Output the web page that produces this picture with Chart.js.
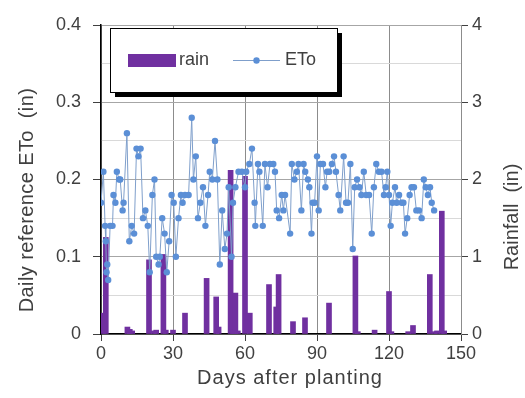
<!DOCTYPE html>
<html>
<head>
<meta charset="utf-8">
<script src="https://cdn.jsdelivr.net/npm/chart.js@4/dist/chart.umd.min.js"></script>
<style>
html,body{margin:0;padding:0;background:#fff;}
#wrap{width:525px;height:398px;position:relative;}
</style>
</head>
<body>
<div id="wrap"><canvas id="c" width="525" height="398"></canvas></div>
<script>
// ---- data ----
const etoDays = [0,1,1.7,2,2.3,2.6,3,3.8,4.8,5.2,6,6.6,7.6,8,9,9.4,10.8,11.8,12.8,13.8,14.8,15.6,16.5,17.5,18.5,19.5,20.3,21.4,22.3,23,24,24.5,25.5,26.5,27.4,28.4,29.4,30.3,31.2,32.3,33.3,34,35,36.5,37.8,38.5,39.5,40.4,41.4,42.5,43.5,44.6,45.3,46.4,47.5,48.5,49.5,50.5,51.6,52.5,53.2,54.4,55,56,57.3,58.7,60,60.5,61.8,62.9,64,64.3,65.4,66,67.4,68.3,69.4,70.4,71.8,72.5,73.2,74.2,75.3,76,76.7,78.8,79.5,80.6,81.6,82.3,83.5,84.4,85.1,86.2,86.8,87.7,88.2,89,90,90.7,91.4,92.5,93.5,94.2,95.1,96.2,97.1,97.9,99,99.7,101.1,102.1,102.9,103.9,104.9,105.7,106.7,107.7,108.5,109.5,110.5,111.7,112.8,113.7,114.7,115.8,116.9,117.9,118.6,119.3,120,120.7,121.4,122.5,123.2,124.2,125.3,126,126.7,127.6,128.6,129.4,130.4,131.4,132.5,133.6,134.5,135.3,136.2,137.1,137.8,138.8];
const eto = [0.17,0.21,0.14,0.12,0.08,0.09,0.07,0.14,0.14,0.18,0.17,0.21,0.20,0.20,0.16,0.17,0.26,0.12,0.14,0.13,0.24,0.23,0.24,0.15,0.16,0.14,0.08,0.18,0.20,0.10,0.09,0.10,0.15,0.13,0.08,0.12,0.18,0.17,0.10,0.15,0.18,0.17,0.18,0.18,0.28,0.20,0.23,0.15,0.17,0.19,0.14,0.18,0.21,0.20,0.25,0.20,0.09,0.16,0.11,0.13,0.19,0.10,0.17,0.19,0.21,0.21,0.19,0.21,0.22,0.24,0.17,0.14,0.22,0.21,0.14,0.22,0.19,0.22,0.22,0.21,0.16,0.15,0.18,0.16,0.18,0.13,0.22,0.20,0.21,0.22,0.16,0.22,0.21,0.20,0.19,0.13,0.17,0.17,0.23,0.16,0.22,0.22,0.19,0.21,0.21,0.22,0.23,0.21,0.18,0.16,0.23,0.17,0.17,0.22,0.11,0.19,0.20,0.19,0.18,0.21,0.18,0.18,0.13,0.19,0.22,0.21,0.21,0.18,0.19,0.21,0.18,0.14,0.17,0.19,0.17,0.18,0.17,0.17,0.13,0.15,0.18,0.19,0.19,0.16,0.16,0.15,0.20,0.19,0.18,0.19,0.17,0.16];
const rainDays = [1,2,11,12,13,20,22,23,26,27,30,35,44,48,49,54,55,56,57,60,62,70,73,74,80,85,95,106,107,114,120,121,128,130,137,139,140,142,143];
const rain = [0.27,1.25,0.09,0.06,0.04,0.96,0.04,0.05,1.03,0.05,0.05,0.27,0.72,0.48,0.09,2.12,0.05,0.53,0.04,2.04,0.27,0.64,0.35,0.77,0.16,0.21,0.40,1.01,0.03,0.05,0.55,0.03,0.03,0.11,0.77,0.03,0.04,1.59,0.04];
const xTicks = [0,30,60,90,120,150];
const leftTicks = [0,0.1,0.2,0.3,0.4];
const rightTicks = [0,1,2,3,4];
const xTitle = 'Days after planting';
const leftTitle = 'Daily reference ETo  (in)';
const rightTitle = 'Rainfall  (in)';
const rainLabel = 'rain';
const etoLabel = 'ETo';

const FONT = "'Liberation Sans', Arial, sans-serif";
const TXT = '#404040';
const RAIN_COL = '#7030A0';
const LINE_COL = '#7F9FCB';
const PT_COL = '#5B8FD6';

function drawText(ctx, text, x, y, rot, size, spacing) {
  ctx.save();
  ctx.fillStyle = TXT;
  ctx.font = size + 'px ' + FONT;
  try { ctx.letterSpacing = spacing + 'px'; } catch (e) {}
  ctx.textAlign = 'center';
  ctx.textBaseline = 'middle';
  ctx.translate(x, y);
  ctx.rotate(rot);
  ctx.fillText(text, 0, 0);
  ctx.restore();
}

const customLegendAndTitles = {
  id: 'customLegendAndTitles',
  afterDraw(chart) {
    const ctx = chart.ctx;
    // axis titles
    drawText(ctx, xTitle, 290, 378, 0, 20, 1);
    drawText(ctx, leftTitle, 27, 200, -Math.PI / 2, 20, 0.4);
    drawText(ctx, rightTitle, 512, 217, -Math.PI / 2, 20, 0);

    // legend box with shadow
    ctx.save();
    const bx = 110, by = 28, bw = 227, bh = 64;
    ctx.fillStyle = '#000';
    ctx.fillRect(bx + 5, by + 5, bw, bh);
    ctx.fillStyle = '#fff';
    ctx.fillRect(bx, by, bw, bh);
    ctx.strokeStyle = '#000';
    ctx.lineWidth = 1;
    ctx.strokeRect(bx + 0.5, by + 0.5, bw, bh);
    const ds = chart.data.datasets;
    const cy = 60;
    ctx.fillStyle = ds[0].backgroundColor;
    ctx.fillRect(128, cy - 6, 48, 13);
    ctx.fillStyle = TXT;
    ctx.font = '18px ' + FONT;
    ctx.textAlign = 'left';
    ctx.textBaseline = 'middle';
    ctx.fillText(ds[0].label, 179, cy);
    ctx.strokeStyle = ds[1].borderColor;
    ctx.lineWidth = 1;
    ctx.beginPath();
    ctx.moveTo(233, cy + 0.5);
    ctx.lineTo(280, cy + 0.5);
    ctx.stroke();
    ctx.fillStyle = ds[1].pointBackgroundColor;
    ctx.beginPath();
    ctx.arc(256.5, cy + 0.5, 3.2, 0, Math.PI * 2);
    ctx.fill();
    ctx.fillStyle = TXT;
    ctx.fillText(ds[1].label, 285, cy);
    ctx.restore();
  }
};

new Chart(document.getElementById('c'), {
  type: 'bar',
  data: {
    datasets: [
      {
        type: 'bar',
        label: rainLabel,
        data: rainDays.map((d, i) => ({x: d, y: rain[i]})),
        backgroundColor: RAIN_COL,
        borderWidth: 0,
        barThickness: 5,
        yAxisID: 'yR',
        order: 2
      },
      {
        type: 'line',
        label: etoLabel,
        data: etoDays.map((d, i) => ({x: d, y: eto[i]})),
        borderColor: LINE_COL,
        borderWidth: 1,
        pointBackgroundColor: PT_COL,
        pointBorderColor: PT_COL,
        pointRadius: 3.2,
        pointBorderWidth: 0,
        tension: 0,
        yAxisID: 'yL',
        order: 1
      }
    ]
  },
  options: {
    responsive: false,
    animation: false,
    layout: {padding: {top: 25, left: 0, right: 0, bottom: 0}},
    plugins: {legend: {display: false}, tooltip: {enabled: false}},
    scales: {
      x: {
        type: 'linear',
        min: 0, max: 150,
        offset: false,
        afterBuildTicks: s => { s.ticks = xTicks.map(v => ({value: v})); },
        afterFit: s => { s.height = 64; },
        grid: {color: '#8C8C8C', offset: false, tickLength: 7, tickColor: '#404040', drawTicks: true},
        border: {color: '#000', width: 1.5},
        ticks: {color: TXT, font: {size: 18, family: FONT}, padding: 2, maxRotation: 0},
        title: {display: false}
      },
      yL: {
        type: 'linear',
        position: 'left',
        min: 0, max: 0.4,
        afterBuildTicks: s => {
          const t = [];
          for (let i = 0; i < leftTicks.length; i++) {
            t.push({value: leftTicks[i]});
            if (i < leftTicks.length - 1) t.push({value: (leftTicks[i] + leftTicks[i + 1]) / 2, minor: true});
          }
          s.ticks = t;
        },
        afterFit: s => { s.width = 101; },
        grid: {
          color: c => (c.tick && c.tick.minor) ? '#D9D9D9' : '#A6A6A6',
          tickColor: c => (c.tick && c.tick.minor) ? 'rgba(0,0,0,0)' : '#404040',
          tickLength: 8
        },
        border: {color: '#000', width: 1.5},
        ticks: {
          color: TXT, font: {size: 18, family: FONT}, padding: 12,
          callback: (v, i, ticks) => ticks[i].minor ? '' : String(v)
        },
        title: {display: false}
      },
      yR: {
        type: 'linear',
        position: 'right',
        min: 0, max: 4,
        afterBuildTicks: s => { s.ticks = rightTicks.map(v => ({value: v})); },
        afterFit: s => { s.width = 64; },
        grid: {drawOnChartArea: false, tickLength: 7, tickColor: '#404040'},
        border: {color: '#8C8C8C', width: 1},
        ticks: {color: TXT, font: {size: 18, family: FONT}, padding: 4},
        title: {display: false}
      }
    }
  },
  plugins: [customLegendAndTitles]
});
</script>
</body>
</html>
